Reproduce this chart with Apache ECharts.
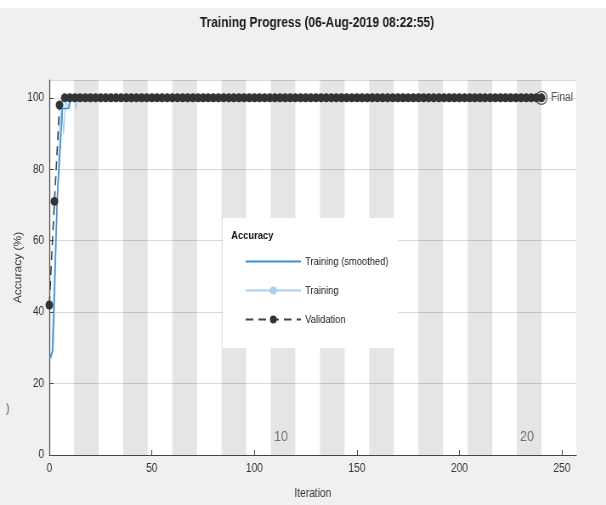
<!DOCTYPE html>
<html>
<head>
<meta charset="utf-8">
<script src="https://cdn.jsdelivr.net/npm/echarts@6/dist/echarts.min.js"></script>
<style>
html,body{margin:0;padding:0;background:#f0f0f0;overflow:hidden;width:606px;height:505px;}
#c{width:713px;height:505px;transform:scaleX(0.85);transform-origin:0 0;}
</style>
</head>
<body>
<div id="c"></div>
<script>
// ---- data ----
const titleText = 'Training Progress (06-Aug-2019 08:22:55)';
const numEpochs = 20;
const itersPerEpoch = 12;
const epochLabelIter = [113, 233];
const epochLabelText = ['10', '20'];
const smoothIter = [0.2, 1.5, 3.8, 6.4, 9.5, 10.5, 240];
const smoothAcc = [27, 29, 71, 97, 97, 100, 100];
const trainIter = [1, 2, 3, 4, 5, 6, 7, 8, 9, 10, 11, 12, 13, 14, 240];
const trainAcc = [27, 30, 52, 72, 92, 97, 90, 100, 97, 100, 100, 100, 97, 100, 100];
const valIter = [0,2.5,5,7.5,10,12.5,15,17.5,20,22.5,25,27.5,30,32.5,35,37.5,40,42.5,45,47.5,50,52.5,55,57.5,60,62.5,65,67.5,70,72.5,75,77.5,80,82.5,85,87.5,90,92.5,95,97.5,100,102.5,105,107.5,110,112.5,115,117.5,120,122.5,125,127.5,130,132.5,135,137.5,140,142.5,145,147.5,150,152.5,155,157.5,160,162.5,165,167.5,170,172.5,175,177.5,180,182.5,185,187.5,190,192.5,195,197.5,200,202.5,205,207.5,210,212.5,215,217.5,220,222.5,225,227.5,230,232.5,235,237.5,240];
const valAcc = [42,71,98,100,100,100,100,100,100,100,100,100,100,100,100,100,100,100,100,100,100,100,100,100,100,100,100,100,100,100,100,100,100,100,100,100,100,100,100,100,100,100,100,100,100,100,100,100,100,100,100,100,100,100,100,100,100,100,100,100,100,100,100,100,100,100,100,100,100,100,100,100,100,100,100,100,100,100,100,100,100,100,100,100,100,100,100,100,100,100,100,100,100,100,100,100,100];
const finalPoint = [240, 100];
const xTicks = {min: 0, max: 257, interval: 50};
const yTicks = {min: 0, max: 105, interval: 20};

// ---- build ----
const FONT = "'Liberation Sans', Arial, sans-serif";
const bands = [];
for (let e = 2; e <= numEpochs; e += 2) {
  bands.push([{xAxis: (e - 1) * itersPerEpoch}, {xAxis: e * itersPerEpoch}]);
}
const zip = (a, b) => a.map((v, i) => [v, b[i]]);

const chart = echarts.init(document.getElementById('c'), null, {renderer: 'canvas', width: 713, height: 505});
chart.setOption({
  backgroundColor: '#f0f0f0',
  animation: false,
  title: {
    text: titleText, left: 368, top: 11, textAlign: 'center',
    textStyle: {fontFamily: FONT, fontSize: 14, fontWeight: 'bold', color: '#1a1a1a'}
  },
  grid: {left: 58, right: 35, top: 80, bottom: 49, show: true, backgroundColor: '#ffffff', borderWidth: 0},
  xAxis: {
    type: 'value', min: xTicks.min, max: xTicks.max, interval: xTicks.interval,
    name: 'Iteration', nameLocation: 'middle', nameGap: 33,
    nameTextStyle: {fontFamily: FONT, fontSize: 12, color: '#333'},
    axisLine: {lineStyle: {color: '#444', width: 1.2}},
    axisTick: {inside: true, length: 5, lineStyle: {color: '#444'}},
    axisLabel: {fontFamily: FONT, fontSize: 12, color: '#333', margin: 8},
    splitLine: {show: false}
  },
  yAxis: {
    type: 'value', min: yTicks.min, max: yTicks.max, interval: yTicks.interval,
    name: 'Accuracy (%)', nameLocation: 'middle', nameGap: 30, nameMoveOverlap: false,
    nameTextStyle: {fontFamily: FONT, fontSize: 12, color: '#333'},
    axisLine: {show: true, lineStyle: {color: '#444', width: 1.2}},
    axisTick: {show: true, inside: true, length: 5, lineStyle: {color: '#444'}},
    axisLabel: {fontFamily: FONT, fontSize: 12, color: '#333', margin: 6,
      showMaxLabel: false},
    splitLine: {show: true, lineStyle: {color: '#d8d8d8', width: 1}}
  },
  legend: {
    orient: 'vertical', left: 262, top: 218,
    padding: [38, 12, 23, 26],
    backgroundColor: '#ffffff',
    itemWidth: 65, itemHeight: 10, itemGap: 18,
    textStyle: {fontFamily: FONT, fontSize: 11, color: '#222'},
    data: [
      {name: 'Training (smoothed)', itemStyle: {opacity: 0}},
      'Training', 'Validation'
    ]
  },
  graphic: [
    {type: 'rect', left: 0, top: 0, shape: {width: 713, height: 8}, style: {fill: '#ffffff'}, silent: true},
    {type: 'text', left: 272, top: 230, z: 100,
      style: {text: 'Accuracy', font: "bold 11px 'Liberation Sans', Arial", fill: '#111'}},
    {type: 'text', left: 7, top: 403, style: {text: ')', font: "12px 'Liberation Sans'", fill: '#555'}}
  ],
  series: [
    {
      name: 'bands', type: 'line', data: [], silent: true, z: 1,
      markArea: {silent: true, itemStyle: {color: 'rgba(0,0,0,0.1)'}, data: bands}
    },
    {
      name: 'epochLabels', type: 'scatter', symbolSize: 0, silent: true, z: 3,
      data: zip(epochLabelIter, epochLabelIter.map(() => 5)),
      label: {show: true, position: 'inside', fontFamily: FONT, fontSize: 15, color: '#555',
        formatter: p => epochLabelText[p.dataIndex]}
    },
    {
      name: 'Training', type: 'line', data: zip(trainIter, trainAcc), z: 4,
      symbol: 'circle', symbolSize: 8, showSymbol: false,
      lineStyle: {color: '#a8d0ee', width: 1.3}, itemStyle: {color: '#a8d0ee'}
    },
    {
      name: 'Training (smoothed)', type: 'line', data: zip(smoothIter, smoothAcc), z: 5,
      symbol: 'none',
      lineStyle: {color: '#3a8fd8', width: 1.6}, itemStyle: {color: '#3a8fd8'}
    },
    {
      name: 'Validation', type: 'line', data: zip(valIter, valAcc), z: 6,
      symbol: 'circle', symbolSize: 9, showSymbol: true,
      lineStyle: {color: '#444444', width: 1.6, type: [9, 6]},
      itemStyle: {color: '#333333'}
    },
    {
      name: 'Final', type: 'scatter', data: [finalPoint], z: 7,
      symbol: 'circle', symbolSize: 13,
      itemStyle: {color: 'rgba(255,255,255,0)', borderColor: '#333', borderWidth: 1.3},
      label: {show: true, position: 'right', formatter: 'Final', distance: 4,
        fontFamily: FONT, fontSize: 12, color: '#222'}
    }
  ]
});
</script>
</body>
</html>
